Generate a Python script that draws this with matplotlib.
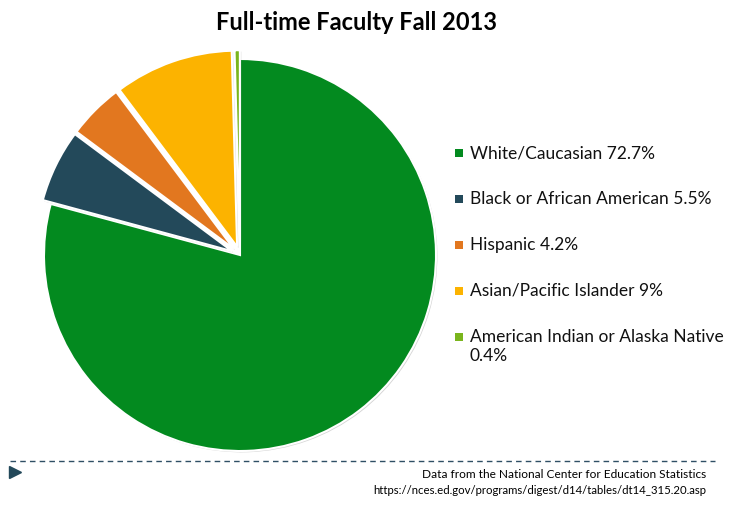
import matplotlib.pyplot as plt
import matplotlib.patheffects as pe
from matplotlib.lines import Line2D
from matplotlib.patches import Rectangle

plt.rcParams['font.family'] = ['Lato', 'DejaVu Sans']

# Data
groups = ['White/Caucasian', 'Black or African American', 'Hispanic',
          'Asian/Pacific Islander', 'American Indian or Alaska Native']
percents = [72.7, 5.5, 4.2, 9, 0.4]
labels = ['White/Caucasian 72.7%', 'Black or African American 5.5%', 'Hispanic 4.2%',
          'Asian/Pacific Islander 9%', 'American Indian or Alaska Native\n0.4%']
colors = ['#038a1f', '#23495a', '#e2771f', '#fcb300', '#7ab51d']
explode = [0, 0.045, 0.045, 0.045, 0.045]

W, H = 730, 523
fig = plt.figure(figsize=(W / 100, H / 100), dpi=100)

# pie axes: centre ~ (240, 255) px, radius ~196 px
r_px = 196
ax = fig.add_axes([(240 - r_px) / W, (H - 255 - r_px) / H, 2 * r_px / W, 2 * r_px / H])
wedges, _ = ax.pie(percents, colors=colors, startangle=90, counterclock=False,
                   explode=explode,
                   wedgeprops=dict(edgecolor='white', linewidth=1.5))
for w in wedges:
    w.set_path_effects([pe.SimplePatchShadow(offset=(1, -1), shadow_rgbFace='#888888', alpha=0.35),
                        pe.Normal()])
ax.set_xlim(-1, 1)
ax.set_ylim(-1, 1)
ax.set_aspect('equal')
ax.axis('off')

fig.text(357 / W, 1 - 22 / H, 'Full-time Faculty Fall 2013', ha='center', va='center',
         fontsize=17, fontweight='bold')

# legend: square markers aligned with first line of each label
row_y = 153
for lab, col in zip(labels, colors):
    fig.add_artist(Rectangle((455 / W, 1 - (row_y + 4) / H), 8 / W, 8 / H,
                             transform=fig.transFigure, facecolor=col, edgecolor='none'))
    lines = lab.split('\n')
    for k, ln in enumerate(lines):
        fig.text(470 / W, 1 - (row_y + 19 * k) / H, ln, ha='left', va='center',
                 fontsize=12.5, color='#111111')
    row_y += 46

# footer
fig.add_artist(Line2D([10 / W, 715 / W], [1 - 461 / H, 1 - 461 / H], color='#2f4f65', lw=1,
                      linestyle=(0, (4, 3))))
fig.add_artist(Line2D([15 / W], [1 - 472 / H], marker='>', color='#23495a', markersize=8,
                      linestyle='none'))
fig.text(706 / W, 1 - 474 / H, 'Data from the National Center for Education Statistics',
         ha='right', va='center', fontsize=8.6)
fig.text(706 / W, 1 - 491 / H, 'https://nces.ed.gov/programs/digest/d14/tables/dt14_315.20.asp',
         ha='right', va='center', fontsize=8.2)

fig.savefig('out.png', dpi=100)
